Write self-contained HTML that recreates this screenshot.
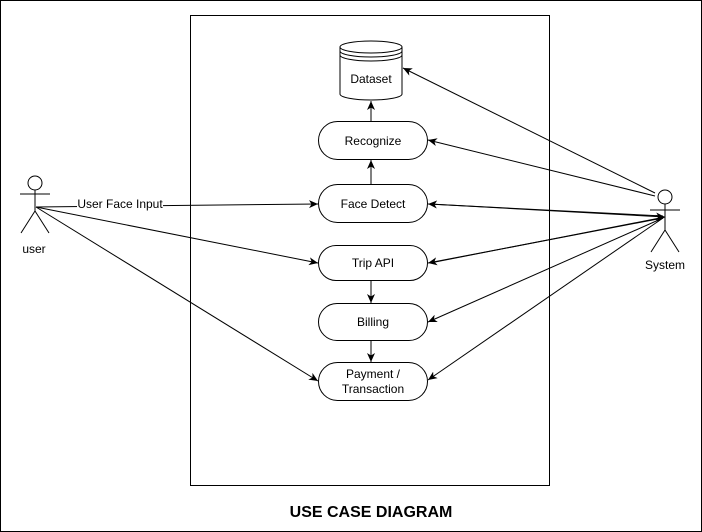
<!DOCTYPE html>
<html><head><meta charset="utf-8"><style>
html,body{margin:0;padding:0;background:#fff}
svg{display:block}
text{font-family:"Liberation Sans",sans-serif;font-size:12px;fill:#000}
</style></head><body>
<svg width="702" height="532" viewBox="0 0 702 532">
<defs>
<marker id="a" markerWidth="10" markerHeight="10" refX="9" refY="5" orient="auto" markerUnits="userSpaceOnUse">
<path d="M0,1 L9,5 L0,9 L2.5,5 Z" fill="#000"/>
</marker>
</defs>
<rect x="0.5" y="0.5" width="701" height="531" fill="#fff" stroke="#000"/>
<rect x="190.5" y="15.5" width="359" height="470" fill="none" stroke="#000"/>

<path d="M340,47 L340,94 A31,6 0 0 0 402,94 L402,47" fill="#fff" stroke="#000"/>
<ellipse cx="371" cy="47" rx="31" ry="6" fill="#fff" stroke="#000"/>
<path d="M340,51 A31,6 0 0 0 402,51 M340,55 A31,6 0 0 0 402,55" fill="none" stroke="#000"/>
<text x="371" y="83" text-anchor="middle">Dataset</text>

<g fill="#fff" stroke="#000">
<rect x="318.5" y="121.5" width="109" height="38" rx="19"/>
<rect x="318.5" y="184.5" width="109" height="38" rx="19"/>
<rect x="318.5" y="245.5" width="109" height="35" rx="17.5"/>
<rect x="318.5" y="303.5" width="109" height="37" rx="18.5"/>
<rect x="318.5" y="362.5" width="109" height="38" rx="19"/>
</g>
<text x="373" y="145" text-anchor="middle">Recognize</text>
<text x="373" y="208" text-anchor="middle">Face Detect</text>
<text x="373" y="267" text-anchor="middle">Trip API</text>
<text x="373" y="326" text-anchor="middle">Billing</text>
<text x="373" y="378" text-anchor="middle">Payment /</text>
<text x="373" y="393" text-anchor="middle">Transaction</text>

<g stroke="#000" fill="none" marker-end="url(#a)">
<line x1="371" y1="121" x2="371" y2="101"/>
<line x1="371" y1="184" x2="371" y2="160"/>
<line x1="371" y1="281" x2="371" y2="303"/>
<line x1="371" y1="341" x2="371" y2="362"/>
</g>

<g stroke="#000" fill="none">
<circle cx="35" cy="183" r="7" fill="#fff"/>
<line x1="35" y1="190" x2="35" y2="211"/>
<line x1="20" y1="194" x2="50" y2="194"/>
<line x1="35" y1="211" x2="21" y2="233"/>
<line x1="35" y1="211" x2="49" y2="233"/>
</g>
<text x="34" y="253" text-anchor="middle">user</text>

<g stroke="#000" fill="none">
<circle cx="665" cy="197" r="7" fill="#fff"/>
<line x1="665" y1="204" x2="665" y2="230"/>
<line x1="650" y1="210" x2="680" y2="210"/>
<line x1="665" y1="230" x2="651" y2="252"/>
<line x1="665" y1="230" x2="679" y2="252"/>
</g>
<text x="665" y="269" text-anchor="middle">System</text>

<g stroke="#000" fill="none" marker-end="url(#a)">
<line x1="36" y1="207" x2="318" y2="204"/>
<line x1="36" y1="207" x2="318" y2="263"/>
<line x1="36" y1="207" x2="318" y2="381"/>
</g>
<rect x="77" y="197" width="86" height="12" fill="#fff"/>
<text x="120" y="208" text-anchor="middle">User Face Input</text>

<g stroke="#000" fill="none" marker-end="url(#a)">
<line x1="655" y1="193" x2="403" y2="68"/>
<line x1="655" y1="196" x2="428" y2="140"/>
<line x1="663" y1="216" x2="428" y2="204"/>
<line x1="663" y1="218" x2="428" y2="263"/>
<line x1="663" y1="218" x2="428" y2="322"/>
<line x1="663" y1="218" x2="428" y2="380"/>
<line x1="430" y1="204" x2="665" y2="217"/>
<line x1="430" y1="263" x2="665" y2="217"/>
</g>

<text x="371" y="517" text-anchor="middle" style="font-size:16px;font-weight:bold">USE CASE DIAGRAM</text>
</svg>
</body></html>
